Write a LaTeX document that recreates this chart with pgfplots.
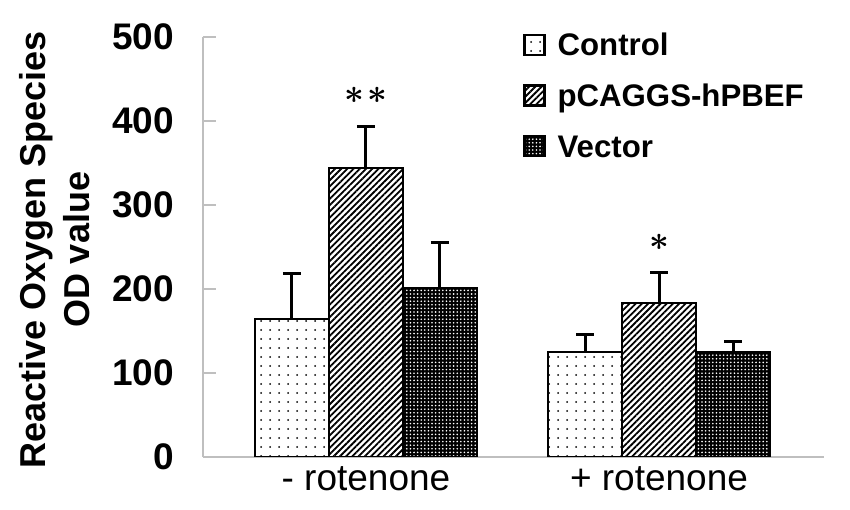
\documentclass[border=0pt]{standalone}
\usepackage{fontspec}
\setmainfont{Liberation Sans}
\usepackage{bm}
\usepackage{pgfplots}
\pgfplotsset{compat=1.18}
\usetikzlibrary{patterns.meta}
\pgfplotsset{/pgfplots/ybar legend/.style={/pgfplots/legend image code/.code={\draw[##1] (0bp,-3.5bp) rectangle (10bp,6.5bp);}}}
\begin{document}
\begin{tikzpicture}
\path[use as bounding box] (-101.5bp,-26.5bp) rectangle (323.5bp,228.5bp);
\begin{axis}[
 scale only axis, width=310.5bp, height=210bp,
 xmin=-0.5563, xmax=1.5631, ymin=0, ymax=500,
 ybar=0pt, bar width=37bp,
 axis x line*=bottom, axis y line*=left,
 axis line style={draw=gray!50, line width=0.6bp},
 xtick={0,1}, xticklabels={- rotenone, + rotenone},
 x tick style={draw=none},
 ytick={0,100,...,500},
 y tick style={draw=gray!50, line width=0.6bp},
 tick align=inside, major tick length=6.5bp,
 /pgf/number format/assume math mode=true,
 yticklabel style={font=\bfseries\fontsize{18.5bp}{20bp}\selectfont, xshift=-11bp},
 xticklabel style={font=\fontsize{18.5bp}{20bp}\selectfont, text height=13bp},
 ylabel={Reactive Oxygen Species\\OD value},
 ylabel style={align=center, font=\bfseries\fontsize{18bp}{22bp}\selectfont, at={(axis description cs:-0.2383,0.493)}, anchor=center},
 legend style={draw=none, fill=none, at={(axis description cs:0.515,1)}, anchor=north west, yshift=4.3bp, inner sep=0pt, row sep=6.3bp, font=\bfseries\fontsize{15.6bp}{18bp}\selectfont, nodes={inner sep=2bp, text height=11.5bp, text depth=3.5bp}},
 legend cell align=left,
 error bars/y dir=plus, error bars/y explicit,
 error bars/error bar style={line width=1.5bp, black},
 error bars/error mark options={rotate=90, mark size=4.5bp, line width=1.5bp, black},
]
\addplot[draw=black, line width=1.2bp, pattern={Dots[distance=4.5bp, radius=0.5bp]}, pattern color=black]
 coordinates {(0,164) +- (0,54) (1,125) +- (0,21)};
\addplot[draw=black, line width=1.2bp, pattern={Lines[angle=45, distance=2.2bp, line width=0.9bp]}, pattern color=black]
 coordinates {(0,344) +- (0,50) (1,183) +- (0,37)};
\addplot[draw=black, line width=1.2bp, fill=black, postaction={pattern={Dots[distance=1.8bp, radius=0.45bp]}, pattern color=white}]
 coordinates {(0,201) +- (0,54) (1,125) +- (0,13)};
\legend{\hspace{4bp}Control, \hspace{4bp}pCAGGS-hPBEF, \hspace{4bp}Vector}
\node[font=\fontsize{18bp}{18bp}\selectfont] at (axis cs:0,431) {$\bm{\ast}$\hspace{1.5bp}$\bm{\ast}$};
\node[font=\fontsize{18bp}{18bp}\selectfont] at (axis cs:1,256) {$\bm{\ast}$};
\end{axis}
\end{tikzpicture}
\end{document}
